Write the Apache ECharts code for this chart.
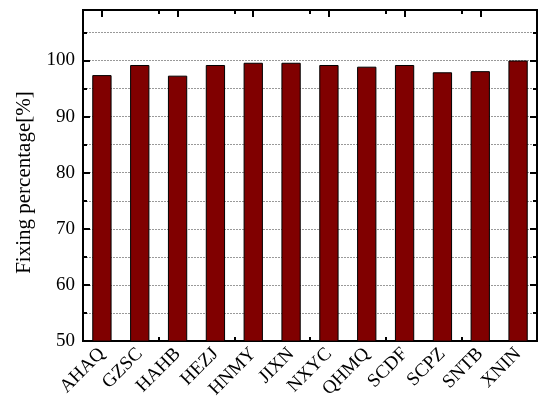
<!DOCTYPE html>
<html>
<head>
<meta charset="utf-8">
<script src="https://cdn.jsdelivr.net/npm/echarts@6/dist/echarts.min.js"></script>
<style>
html,body{margin:0;padding:0;background:#fff;}
#chart{width:538px;height:401px;}
</style>
</head>
<body>
<div id="chart"></div>
<script>
// Station codes and their fixing percentages
const stations = ['AHAQ','GZSC','HAHB','HEZJ','HNMY','JIXN','NXYC','QHMQ','SCDF','SCPZ','SNTB','XNIN'];
const fixingPct = [97.4, 99.2, 97.3, 99.2, 99.6, 99.6, 99.2, 98.9, 99.2, 97.9, 98.1, 100.0];
const yMin = 50, yMax = 109;
const yLabel = 'Fixing percentage[%]';

const serif = '"Liberation Serif", "Times New Roman", serif';
const chart = echarts.init(document.getElementById('chart'));

function catAxis(pos, centered, len, showLabel) {
  return {
    type: 'category', data: stations, position: pos, gridIndex: 0,
    axisLine: { show: true, lineStyle: { color: '#000', width: 2 } },
    axisTick: { show: true, inside: true, alignWithLabel: centered, length: len, lineStyle: { color: '#000', width: 2 } },
    axisLabel: showLabel ? {
      show: true, rotate: 45, margin: 10, color: '#000',
      fontFamily: serif, fontSize: 19
    } : { show: false },
    splitLine: { show: false }
  };
}

function valAxis(pos, step, len, opts) {
  return Object.assign({
    type: 'value', min: yMin, max: yMax, interval: step, position: pos,
    axisLine: { show: true, lineStyle: { color: '#000', width: 2 } },
    axisTick: { show: true, inside: true, length: len, lineStyle: { color: '#000', width: 2 } },
    axisLabel: { show: false },
    splitLine: { show: false }
  }, opts || {});
}

chart.setOption({
  animation: false,
  grid: { left: 83, right: 1, top: 10, bottom: 59, containLabel: false },
  xAxis: [
    catAxis('bottom', true, 7, true),
    catAxis('bottom', false, 4, false),
    catAxis('top', true, 7, false),
    catAxis('top', false, 4, false)
  ],
  yAxis: [
    valAxis('left', 10, 7, {
      name: yLabel, nameLocation: 'middle', nameGap: 48,
      nameTextStyle: { fontFamily: serif, fontSize: 21, color: '#000', padding: [0, 14, 0, 0] },
      axisLabel: {
        show: true, color: '#000', fontFamily: serif, fontSize: 19, margin: 8,
        formatter: v => (v % 10 === 0 ? String(v) : '')
      }
    }),
    valAxis('left', 5, 4, {
      splitLine: { show: true, lineStyle: { color: '#999', type: [2, 1], width: 1 } }
    }),
    valAxis('right', 10, 7),
    valAxis('right', 5, 4)
  ],
  series: [{
    type: 'bar',
    xAxisIndex: 0, yAxisIndex: 0,
    data: fixingPct,
    barWidth: '51%',
    itemStyle: { color: '#800000', borderColor: '#000', borderWidth: 1 },
    z: 3
  }]
});
</script>
</body>
</html>
